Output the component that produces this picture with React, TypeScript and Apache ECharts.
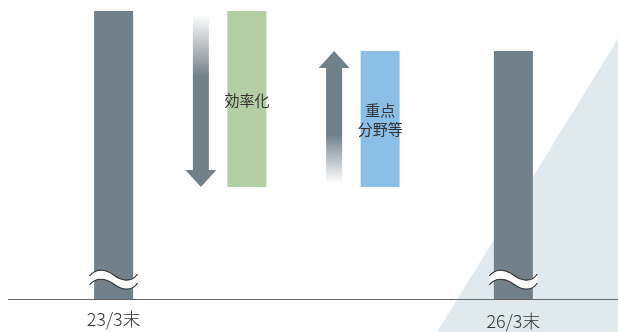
import React, { useEffect, useRef } from "react";
import * as echarts from "echarts";

const categories = ["23/3末", "効率化", "重点分野等", "26/3末"];
const baseValues = [0, 112, 112, 0];
const barValues = [288, 176, 136, 248];
const barColors = ["#718089", "#b5cfa5", "#8bbfe7", "#718089"];
const innerLabels = ["", "効率化", "重点\n分野等", ""];
// [category index, from value, to value]
const arrows = [
  [1, 288, 112],
  [2, 112, 248],
];
// [category index, value] where the axis-break mark sits
const breakMarks = [
  [0, 19],
  [3, 19],
];

const GRAY = "113,128,137";

echarts.graphic.registerShape(
  "tildeFill",
  echarts.graphic.extendPath(
    "M-24,-4 C-18,-12 -8,-11 0,-5 C8,1 18,3 24,-6 L24,3 C18,12 8,10 0,4 C-8,-2 -18,-3 -24,5 Z",
    {}
  )
);
echarts.graphic.registerShape(
  "tildeTop",
  echarts.graphic.extendPath("M-24,-4 C-18,-12 -8,-11 0,-5 C8,1 18,3 24,-6", {})
);
echarts.graphic.registerShape(
  "tildeBot",
  echarts.graphic.extendPath("M-24,5 C-18,-3 -8,-2 0,4 C8,10 18,12 24,3", {})
);

export default function App() {
  const ref = useRef<HTMLDivElement>(null);
  useEffect(() => {
    if (!ref.current) return;
    const chart = echarts.init(ref.current, null, { renderer: "svg" });
    const option: any = {
      animation: false,
      grid: { left: 47, right: 38, top: 11, bottom: 33 },
      xAxis: {
        type: "category",
        data: categories.map((c, i) =>
          i === 3 ? { value: c, textStyle: { padding: [2, 0, 0, 0] } } : { value: c }
        ),
        axisLine: { show: false },
        axisTick: { show: false },
        axisLabel: {
          interval: 0,
          margin: 10,
          fontSize: 18,
          lineHeight: 18,
          fontFamily: "Noto Sans CJK JP",
          fontWeight: 300,
          color: "#333",
          formatter: (v: string, i: number) => (i === 0 || i === 3 ? v : ""),
        },
      },
      yAxis: {
        type: "value",
        min: 0,
        max: 288,
        show: false,
        splitLine: { show: false },
      },
      graphic: [
        {
          type: "polygon",
          z: 0,
          shape: { points: [[618, 39], [618, 332], [437, 332]] },
          style: { fill: "#dfe9ee" },
        },
        {
          type: "line",
          z: 100,
          shape: { x1: 8, y1: 299.5, x2: 618, y2: 299.5 },
          style: { stroke: "#666", lineWidth: 1 },
        },
      ],
      series: [
        {
          type: "bar",
          stack: "w",
          silent: true,
          barWidth: 39,
          itemStyle: { color: "transparent" },
          data: baseValues,
        },
        {
          type: "bar",
          stack: "w",
          barWidth: 39,
          data: barValues.map((v, i) => ({
            value: v,
            itemStyle: { color: barColors[i] },
          })),
          label: {
            show: true,
            position: "inside",
            fontSize: 15,
            lineHeight: 19,
            fontFamily: "Noto Sans CJK JP",
            color: "#333",
            formatter: (p: any) => innerLabels[p.dataIndex],
          },
        },
        {
          type: "custom",
          z: 5,
          data: arrows,
          encode: { x: 0, y: [1, 2] },
          renderItem: (params: any, api: any) => {
            const cat = api.value(0);
            const from = api.value(1);
            const to = api.value(2);
            const p0 = api.coord([cat, from]);
            const p1 = api.coord([cat, to]);
            const x = p0[0] - 46;
            const headH = 17;
            const headW = 31;
            const shaftW = 16;
            const down = to < from;
            let shaftTop, shaftBot, head, grad;
            if (down) {
              shaftTop = p0[1] + 4;
              shaftBot = p1[1] - headH;
              head = [
                [x - headW / 2, shaftBot],
                [x + headW / 2, shaftBot],
                [x, p1[1]],
              ];
              grad = new echarts.graphic.LinearGradient(0, 0, 0, 1, [
                { offset: 0, color: `rgba(${GRAY},0)` },
                { offset: 0.4, color: `rgba(${GRAY},1)` },
                { offset: 1, color: `rgba(${GRAY},1)` },
              ]);
            } else {
              shaftTop = p1[1] + headH;
              shaftBot = p0[1] - 4;
              head = [
                [x - headW / 2, shaftTop],
                [x + headW / 2, shaftTop],
                [x, p1[1]],
              ];
              grad = new echarts.graphic.LinearGradient(0, 0, 0, 1, [
                { offset: 0, color: `rgba(${GRAY},1)` },
                { offset: 0.58, color: `rgba(${GRAY},1)` },
                { offset: 1, color: `rgba(${GRAY},0)` },
              ]);
            }
            return {
              type: "group",
              children: [
                {
                  type: "rect",
                  shape: { x: x - shaftW / 2, y: shaftTop, width: shaftW, height: shaftBot - shaftTop },
                  style: { fill: grad },
                },
                {
                  type: "polygon",
                  shape: { points: head },
                  style: { fill: `rgb(${GRAY})` },
                },
              ],
            };
          },
        },
        {
          type: "custom",
          z: 10,
          data: breakMarks,
          encode: { x: 0, y: 1 },
          renderItem: (params: any, api: any) => {
            const p = api.coord([api.value(0), api.value(1)]);
            return {
              type: "group",
              x: p[0],
              y: p[1],
              children: [
                { type: "tildeFill", shape: {}, style: { fill: "#fff", stroke: null } },
                { type: "tildeTop", shape: {}, style: { fill: null, stroke: "#333", lineWidth: 1.2 } },
                { type: "tildeBot", shape: {}, style: { fill: null, stroke: "#333", lineWidth: 1.2 } },
              ],
            };
          },
        },
      ],
    };
    chart.setOption(option);
    return () => chart.dispose();
  }, []);
  return (
    <div
      ref={ref}
      style={{ position: "fixed", left: 0, top: 0, width: 618, height: 332 }}
    />
  );
}
